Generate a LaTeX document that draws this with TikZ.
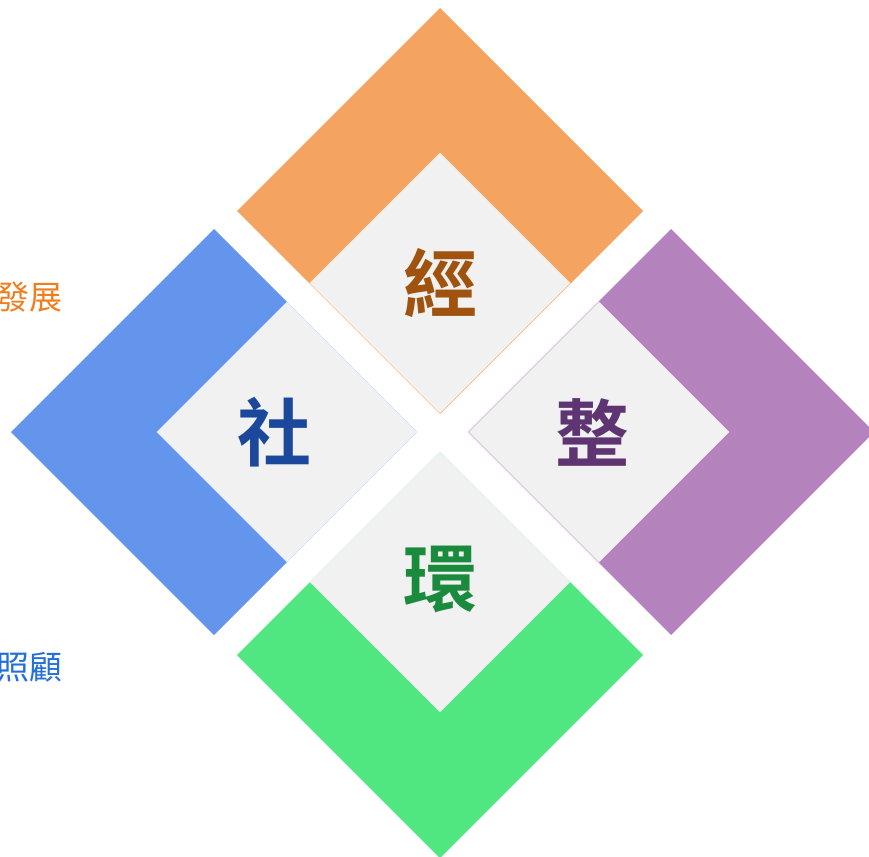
\documentclass[tikz,border=0pt]{standalone}
\usepackage{fontspec}
\newfontfamily\cjk{Noto Sans CJK TC}
\newfontfamily\cjkb{Noto Sans CJK TC Bold}
\definecolor{cOr}{HTML}{F4A460}
\definecolor{cBl}{HTML}{6495ED}
\definecolor{cPu}{HTML}{B482BD}
\definecolor{cGr}{HTML}{50E680}
\definecolor{cGy}{HTML}{F1F1F1}
\definecolor{tOr}{HTML}{A0520F}
\definecolor{tBl}{HTML}{1C489C}
\definecolor{tPu}{HTML}{5E3572}
\definecolor{tGr}{HTML}{1A8A3C}
\definecolor{lOr}{HTML}{F07D1E}
\definecolor{lBl}{HTML}{2370DA}
\tikzset{
  bigchar/.style={font=\cjkb\fontsize{74}{80}\selectfont, inner sep=0pt},
  sidetext/.style={font=\cjk\fontsize{33}{38}\selectfont, inner sep=0pt, anchor=east},
  inner/.style={fill=cGy, line width=0.5pt},
}
\newcommand{\dia}[4]{% cx, cy, half, style
  \path[#4] (#1,#2-#3) -- (#1+#3,#2) -- (#1,#2+#3) -- (#1-#3,#2) -- cycle;}
\begin{document}
\begin{tikzpicture}[x=1pt,y=-1pt]
\useasboundingbox (0,0) rectangle (869,856);
\clip (0,0) rectangle (869,856);
% big coloured diamonds
\dia{440}{211}{203}{fill=cOr}
\dia{214}{432}{203}{fill=cBl}
\dia{671}{432}{203}{fill=cPu}
\dia{440}{655}{203}{fill=cGr}
% inner grey diamonds
\dia{440}{283}{130}{inner, draw=cOr!25}
\dia{287}{432}{130}{inner, draw=cBl!25}
\dia{599}{432}{130}{inner, draw=cPu!25}
\dia{440}{582}{130}{inner, draw=cGr!25}
% labels
\node[bigchar, text=tOr] (jing) at (440,283) {經};
\node[bigchar, text=tBl] (she) at (274,432) {社};
\node[bigchar, text=tPu] (zheng) at (592,432) {整};
\node[bigchar, text=tGr] (huan) at (440,580) {環};
\node[sidetext, text=lOr] (fz) at (63,297) {發展};
\node[sidetext, text=lBl] (zg) at (63,667) {照顧};
\end{tikzpicture}
\end{document}
